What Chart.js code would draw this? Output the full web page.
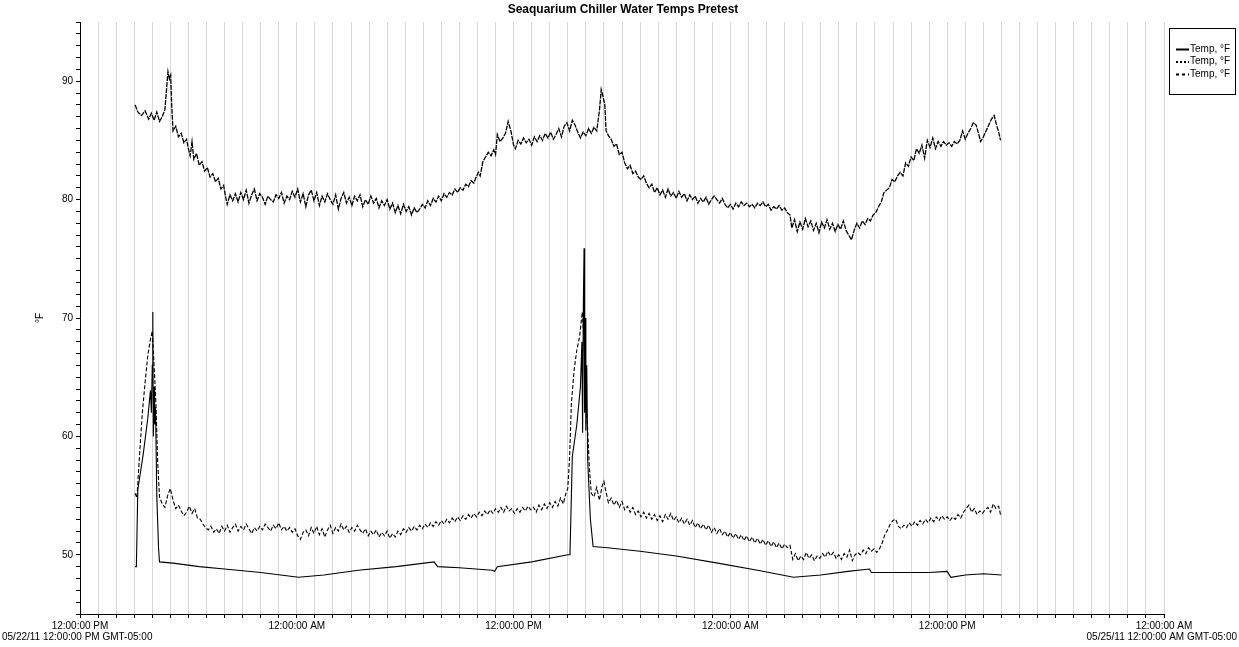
<!DOCTYPE html>
<html>
<head>
<meta charset="utf-8">
<title>Seaquarium Chiller Water Temps Pretest</title>
<script src="https://cdn.jsdelivr.net/npm/chart.js@4"></script>
<style>
  html, body { margin: 0; padding: 0; background: #fff; }
  #wrap { width: 1239px; height: 647px; position: relative; }
</style>
</head>
<body>
<div id="wrap"><canvas id="myChart"></canvas></div>
<script>
// Seaquarium chiller water temps, 05/22/11 12:00 PM -> 05/25/11 12:00 AM
// x = hours since 05/22/11 12:00 PM, y = °F

const chartTitle = "Seaquarium Chiller Water Temps Pretest";
const seriesNames = ["Temp, °F", "Temp, °F", "Temp, °F"];
const startLabel = "05/22/11 12:00:00 PM GMT-05:00";
const endLabel = "05/25/11 12:00:00 AM GMT-05:00";
const xTickLabels = ["12:00:00 PM", "12:00:00 AM"];

// ✅ solid line (lower, smooth with two spikes)
const solidPoints = [
  [3.05, 49.0], [3.12, 49.0], [3.2, 55.5], [3.5, 58.5], [3.75, 61.5], [3.9, 63.9],
  [3.95, 62.0], [4.0, 66.0], [4.03, 70.5], [4.06, 60.0], [4.1, 64.2], [4.13, 61.0],
  [4.18, 62.5], [4.25, 55.0], [4.35, 50.5], [4.4, 49.4], [5.15, 49.3], [6.6, 49.0],
  [8.0, 48.8], [10.0, 48.5], [12.1, 48.1], [13.5, 48.3], [15.4, 48.7], [17.5, 49.0],
  [19.6, 49.4], [19.8, 49.0], [21.0, 48.9], [22.8, 48.7], [22.95, 48.6], [23.1, 49.0],
  [25.0, 49.4], [27.0, 50.0], [27.12, 50.0], [27.25, 58.3], [27.5, 61.0], [27.7, 64.2],
  [27.78, 68.0], [27.82, 60.3], [27.86, 71.0], [27.9, 75.9], [27.93, 62.0], [27.96, 70.0],
  [28.0, 60.5], [28.05, 66.0], [28.1, 58.0], [28.25, 53.0], [28.4, 50.7], [29.2, 50.6],
  [31.0, 50.3], [33.0, 49.9], [35.3, 49.3], [37.5, 48.7], [39.5, 48.1], [41.0, 48.3],
  [42.5, 48.6], [43.7, 48.8], [43.8, 48.5], [45.5, 48.5], [47.0, 48.5], [48.0, 48.6],
  [48.2, 48.1], [49.0, 48.3], [50.0, 48.4], [51.0, 48.3]
];

// ✅ dotted line (top, ~80-90 °F)
const dottedPoints = [
  [3.05, 88.0], [3.2, 87.4], [3.4, 87.1], [3.6, 87.5], [3.8, 86.8], [3.95, 87.3],
  [4.1, 86.7], [4.25, 87.4], [4.4, 86.6], [4.55, 87.0], [4.7, 87.6], [4.8, 89.5],
  [4.87, 90.8], [4.95, 90.2], [5.02, 90.5], [5.08, 87.8], [5.15, 85.8], [5.3, 86.2],
  [5.45, 85.3], [5.6, 85.6], [5.75, 84.8], [5.9, 85.1], [6.0, 84.3], [6.1, 83.7],
  [6.2, 84.9], [6.3, 83.4], [6.45, 83.9], [6.6, 82.9], [6.75, 83.2], [6.9, 82.4],
  [7.05, 82.7], [7.2, 81.9], [7.35, 82.2], [7.5, 81.5], [7.65, 81.8], [7.8, 80.9],
  [7.95, 81.2], [8.05, 80.3], [8.15, 79.6], [8.3, 80.4], [8.45, 79.9], [8.6, 80.5],
  [8.75, 79.8], [8.9, 80.6], [9.05, 80.0], [9.2, 80.8], [9.35, 79.7], [9.5, 80.4],
  [9.65, 80.9], [9.8, 79.9], [9.95, 80.5], [10.1, 80.2], [10.25, 79.6], [10.4, 80.3],
  [10.55, 80.0], [10.7, 79.8], [10.85, 80.4], [11.0, 80.1], [11.15, 80.6], [11.3, 79.7],
  [11.45, 80.3], [11.6, 80.0], [11.75, 80.7], [11.9, 80.2], [12.05, 80.9], [12.2, 79.8],
  [12.35, 80.5], [12.5, 79.4], [12.65, 80.4], [12.8, 80.8], [12.95, 79.9], [13.1, 80.6],
  [13.25, 79.5], [13.4, 80.3], [13.55, 79.8], [13.7, 80.5], [13.85, 80.0], [14.0, 79.6],
  [14.15, 80.4], [14.3, 79.2], [14.45, 80.1], [14.6, 80.6], [14.75, 79.7], [14.9, 80.2],
  [15.05, 79.5], [15.2, 80.3], [15.35, 79.9], [15.5, 80.4], [15.65, 79.4], [15.8, 80.0],
  [15.95, 79.6], [16.1, 80.3], [16.25, 79.7], [16.4, 80.1], [16.55, 79.3], [16.7, 79.9],
  [16.85, 79.5], [17.0, 80.0], [17.15, 79.2], [17.3, 79.7], [17.45, 78.9], [17.6, 79.5],
  [17.75, 78.8], [17.9, 79.6], [18.05, 79.0], [18.2, 79.4], [18.35, 78.7], [18.5, 79.3],
  [18.65, 78.9], [18.8, 79.2], [18.95, 79.6], [19.1, 79.3], [19.25, 79.9], [19.4, 79.5],
  [19.55, 80.1], [19.7, 79.8], [19.85, 80.3], [20.0, 79.9], [20.15, 80.5], [20.3, 80.2],
  [20.45, 80.6], [20.6, 80.4], [20.75, 80.9], [20.9, 80.6], [21.05, 81.0], [21.2, 80.8],
  [21.35, 81.3], [21.5, 81.1], [21.65, 81.6], [21.8, 81.4], [21.9, 81.8], [22.05, 82.3],
  [22.15, 82.0], [22.3, 83.2], [22.45, 83.6], [22.6, 84.0], [22.75, 83.7], [22.9, 84.2],
  [23.0, 83.8], [23.1, 85.5], [23.25, 84.9], [23.4, 85.2], [23.55, 85.6], [23.7, 86.6],
  [23.85, 85.8], [24.0, 84.6], [24.1, 84.3], [24.25, 85.0], [24.4, 84.7], [24.55, 85.2],
  [24.7, 84.8], [24.85, 85.1], [25.0, 84.6], [25.15, 85.3], [25.3, 84.9], [25.45, 85.4],
  [25.6, 85.0], [25.75, 85.6], [25.9, 85.2], [26.05, 85.7], [26.2, 85.1], [26.35, 85.5],
  [26.5, 86.0], [26.65, 85.3], [26.8, 86.2], [26.95, 86.5], [27.1, 85.8], [27.25, 86.7],
  [27.4, 86.3], [27.55, 85.7], [27.7, 85.2], [27.85, 85.7], [28.0, 85.4], [28.15, 86.0],
  [28.3, 85.6], [28.45, 86.1], [28.6, 85.8], [28.75, 87.5], [28.85, 89.3], [28.95, 88.7],
  [29.05, 88.0], [29.12, 85.8], [29.25, 85.4], [29.4, 85.1], [29.55, 84.5], [29.7, 84.7],
  [29.85, 83.8], [30.0, 84.0], [30.15, 83.1], [30.3, 82.6], [30.45, 82.9], [30.6, 82.2],
  [30.75, 82.4], [30.9, 81.9], [31.05, 81.7], [31.2, 82.0], [31.35, 81.4], [31.5, 81.0],
  [31.65, 81.3], [31.8, 80.6], [31.95, 81.0], [32.1, 80.4], [32.25, 80.8], [32.4, 80.2],
  [32.55, 80.9], [32.7, 80.3], [32.85, 80.6], [33.0, 80.1], [33.15, 80.7], [33.3, 80.2],
  [33.45, 80.5], [33.6, 79.9], [33.75, 80.4], [33.9, 80.0], [34.05, 80.3], [34.2, 79.7],
  [34.35, 80.1], [34.5, 79.8], [34.65, 80.2], [34.8, 79.6], [34.95, 80.0], [35.1, 80.3],
  [35.25, 80.0], [35.4, 79.7], [35.55, 80.1], [35.7, 79.6], [35.85, 79.3], [36.0, 79.6],
  [36.15, 79.2], [36.3, 79.7], [36.45, 79.4], [36.6, 79.8], [36.75, 79.5], [36.9, 79.7],
  [37.05, 79.4], [37.2, 79.6], [37.35, 79.3], [37.5, 79.7], [37.65, 79.5], [37.8, 79.8],
  [37.95, 79.4], [38.1, 79.6], [38.25, 79.1], [38.4, 79.4], [38.55, 79.2], [38.7, 79.5],
  [38.85, 79.1], [39.0, 79.3], [39.15, 78.9], [39.3, 78.7], [39.4, 77.6], [39.55, 78.3],
  [39.7, 77.3], [39.85, 78.1], [40.0, 77.5], [40.15, 78.4], [40.3, 77.7], [40.45, 78.2],
  [40.6, 77.4], [40.75, 78.0], [40.9, 77.2], [41.05, 78.1], [41.2, 77.6], [41.35, 78.3],
  [41.5, 77.5], [41.65, 78.0], [41.8, 77.3], [41.95, 77.9], [42.1, 77.5], [42.25, 78.2],
  [42.4, 77.4], [42.55, 77.0], [42.7, 76.6], [42.85, 77.4], [43.0, 78.0], [43.15, 77.6],
  [43.3, 78.2], [43.45, 77.9], [43.6, 78.4], [43.75, 78.2], [43.9, 78.7], [44.05, 78.9],
  [44.2, 79.4], [44.35, 79.8], [44.5, 80.6], [44.65, 80.8], [44.8, 81.0], [44.95, 81.7],
  [45.1, 81.5], [45.25, 82.0], [45.4, 82.3], [45.55, 82.0], [45.7, 83.1], [45.85, 82.8],
  [46.0, 83.6], [46.15, 83.3], [46.3, 84.3], [46.45, 83.9], [46.6, 84.6], [46.75, 83.5],
  [46.9, 85.0], [47.05, 84.4], [47.2, 85.2], [47.35, 84.3], [47.5, 84.9], [47.65, 84.5],
  [47.8, 84.9], [47.95, 84.6], [48.1, 84.8], [48.25, 84.5], [48.4, 84.9], [48.55, 84.7],
  [48.7, 85.0], [48.85, 85.8], [49.0, 85.1], [49.15, 85.6], [49.3, 86.0], [49.45, 86.5],
  [49.6, 86.3], [49.75, 85.5], [49.85, 84.9], [50.0, 85.3], [50.15, 85.8], [50.3, 86.3],
  [50.45, 86.8], [50.6, 87.1], [50.75, 86.2], [50.85, 85.7], [50.95, 85.0]
];

// ✅ dashed line (middle, ~50-55 °F)
const dashedPoints = [
  [3.05, 55.2], [3.15, 54.8], [3.3, 58.5], [3.45, 62.0], [3.6, 64.5], [3.75, 66.8],
  [3.9, 68.2], [4.0, 68.9], [4.1, 66.0], [4.2, 62.8], [4.3, 57.8], [4.4, 54.9],
  [4.55, 54.3], [4.7, 54.0], [4.85, 55.0], [5.0, 55.6], [5.15, 54.6], [5.3, 53.9],
  [5.45, 54.2], [5.6, 53.7], [5.75, 53.3], [5.9, 53.6], [6.05, 54.1], [6.2, 53.5],
  [6.35, 53.9], [6.5, 53.1], [6.65, 53.0], [6.8, 52.6], [6.95, 52.3], [7.1, 52.1],
  [7.25, 52.4], [7.4, 51.9], [7.55, 52.2], [7.7, 51.8], [7.85, 52.4], [8.0, 52.0],
  [8.15, 52.5], [8.3, 51.9], [8.45, 52.3], [8.6, 52.6], [8.75, 52.0], [8.9, 52.4],
  [9.05, 52.1], [9.2, 52.6], [9.35, 52.2], [9.5, 51.8], [9.65, 52.3], [9.8, 52.0],
  [9.95, 52.4], [10.1, 52.1], [10.25, 52.6], [10.4, 52.3], [10.55, 52.0], [10.7, 52.5],
  [10.85, 52.2], [11.0, 52.7], [11.15, 52.1], [11.3, 52.4], [11.45, 52.0], [11.6, 52.3],
  [11.75, 51.9], [11.9, 52.2], [12.05, 51.6], [12.2, 51.3], [12.35, 51.9], [12.5, 52.1],
  [12.65, 51.6], [12.8, 52.3], [12.95, 51.8], [13.1, 52.4], [13.25, 51.7], [13.4, 52.2],
  [13.55, 51.5], [13.7, 52.1], [13.85, 52.5], [14.0, 51.8], [14.15, 52.3], [14.3, 52.0],
  [14.45, 52.6], [14.6, 52.1], [14.75, 52.4], [14.9, 51.9], [15.05, 52.3], [15.2, 52.0],
  [15.35, 52.5], [15.5, 52.1], [15.65, 51.8], [15.8, 52.2], [15.95, 51.6], [16.1, 52.0],
  [16.25, 51.7], [16.4, 52.1], [16.55, 51.5], [16.7, 51.9], [16.85, 51.6], [17.0, 52.0],
  [17.15, 51.4], [17.3, 51.8], [17.45, 51.5], [17.6, 52.0], [17.75, 51.7], [17.9, 52.2],
  [18.05, 51.9], [18.2, 52.3], [18.35, 52.0], [18.5, 52.4], [18.65, 52.1], [18.8, 52.5],
  [18.95, 52.2], [19.1, 52.6], [19.25, 52.3], [19.4, 52.7], [19.55, 52.4], [19.7, 52.8],
  [19.85, 52.5], [20.0, 52.9], [20.15, 52.6], [20.3, 53.0], [20.45, 52.7], [20.6, 53.1],
  [20.75, 52.8], [20.9, 53.2], [21.05, 52.9], [21.2, 53.3], [21.35, 53.0], [21.5, 53.4],
  [21.65, 53.1], [21.8, 53.5], [21.95, 53.2], [22.1, 53.6], [22.25, 53.3], [22.4, 53.7],
  [22.55, 53.4], [22.7, 53.8], [22.85, 53.5], [23.0, 53.9], [23.15, 53.6], [23.3, 54.0],
  [23.45, 53.6], [23.6, 54.1], [23.75, 53.7], [23.9, 53.9], [24.05, 53.5], [24.2, 53.9],
  [24.35, 53.6], [24.5, 54.0], [24.65, 53.7], [24.8, 54.1], [24.95, 53.8], [25.1, 54.0],
  [25.25, 53.6], [25.4, 54.2], [25.55, 53.8], [25.7, 54.3], [25.85, 53.9], [26.0, 54.4],
  [26.15, 54.0], [26.3, 54.5], [26.45, 54.1], [26.6, 54.8], [26.75, 54.3], [26.9, 55.2],
  [27.0, 55.6], [27.1, 58.3], [27.2, 62.8], [27.35, 65.6], [27.5, 67.3], [27.65, 68.4],
  [27.8, 70.5], [27.9, 68.0], [28.0, 64.0], [28.1, 60.5], [28.2, 57.2], [28.3, 55.2],
  [28.45, 54.9], [28.6, 55.7], [28.75, 54.6], [28.9, 55.8], [29.0, 56.2], [29.1, 55.4],
  [29.25, 54.4], [29.4, 54.8], [29.55, 54.2], [29.7, 54.6], [29.85, 54.0], [30.0, 54.5],
  [30.15, 53.8], [30.3, 54.1], [30.45, 53.6], [30.6, 54.0], [30.75, 53.4], [30.9, 53.7],
  [31.05, 53.2], [31.2, 53.6], [31.35, 53.1], [31.5, 53.5], [31.65, 53.0], [31.8, 53.4],
  [31.95, 52.9], [32.1, 53.3], [32.25, 52.8], [32.4, 53.4], [32.55, 53.0], [32.7, 53.5],
  [32.85, 52.9], [33.0, 53.2], [33.15, 52.7], [33.3, 53.1], [33.45, 52.6], [33.6, 53.0],
  [33.75, 52.5], [33.9, 52.9], [34.05, 52.3], [34.2, 52.7], [34.35, 52.2], [34.5, 52.6],
  [34.65, 52.1], [34.8, 52.5], [34.95, 51.9], [35.1, 52.3], [35.25, 51.8], [35.4, 52.2],
  [35.55, 51.7], [35.7, 52.0], [35.85, 51.5], [36.0, 51.9], [36.15, 51.4], [36.3, 51.8],
  [36.45, 51.3], [36.6, 51.7], [36.75, 51.2], [36.9, 51.6], [37.05, 51.1], [37.2, 51.5],
  [37.35, 51.0], [37.5, 51.4], [37.65, 50.9], [37.8, 51.3], [37.95, 50.8], [38.1, 51.2],
  [38.25, 50.7], [38.4, 51.1], [38.55, 50.6], [38.7, 51.0], [38.85, 50.5], [39.0, 50.9],
  [39.15, 50.6], [39.3, 50.8], [39.45, 49.6], [39.6, 50.1], [39.75, 49.5], [39.9, 49.9],
  [40.05, 49.6], [40.2, 50.2], [40.35, 49.7], [40.5, 50.0], [40.65, 49.5], [40.8, 49.9],
  [40.95, 49.7], [41.1, 50.1], [41.25, 49.8], [41.4, 50.3], [41.55, 49.9], [41.7, 50.2],
  [41.85, 49.7], [42.0, 50.0], [42.15, 49.6], [42.3, 50.1], [42.45, 49.8], [42.6, 50.4],
  [42.75, 49.5], [42.9, 50.0], [43.05, 50.2], [43.2, 50.0], [43.35, 50.4], [43.5, 50.1],
  [43.65, 50.6], [43.8, 50.3], [43.95, 50.5], [44.1, 50.2], [44.25, 50.5], [44.4, 51.0],
  [44.55, 51.7], [44.7, 52.1], [44.85, 52.6], [45.0, 52.9], [45.15, 53.0], [45.3, 52.4],
  [45.45, 52.2], [45.6, 52.5], [45.75, 52.3], [45.9, 52.7], [46.05, 52.4], [46.2, 52.8],
  [46.35, 52.5], [46.5, 52.9], [46.65, 52.6], [46.8, 53.0], [46.95, 52.7], [47.1, 53.1],
  [47.25, 52.8], [47.4, 53.2], [47.55, 52.9], [47.7, 53.3], [47.85, 53.0], [48.0, 53.2],
  [48.15, 52.9], [48.3, 53.2], [48.45, 53.0], [48.6, 53.4], [48.75, 53.1], [48.9, 53.6],
  [49.05, 53.9], [49.2, 54.2], [49.35, 53.6], [49.5, 53.9], [49.65, 53.4], [49.8, 53.7],
  [49.95, 53.5], [50.1, 53.8], [50.25, 54.0], [50.4, 53.6], [50.55, 54.3], [50.7, 53.9],
  [50.85, 54.1], [50.95, 53.4]
];

const lineDashes = [[], [5, 1], [4, 2]];
const lineWidths = [1.1, 1.3, 1.1];

function toXY(points) {
  return points.map((p) => ({ x: p[0], y: p[1] }));
}

// ✅ Data
const data = {
  datasets: [solidPoints, dottedPoints, dashedPoints].map((pts, i) => ({
    label: seriesNames[i],
    data: toXY(pts),
    borderColor: "#000",
    borderWidth: lineWidths[i],
    borderDash: lineDashes[i],
    pointRadius: 0,
    tension: 0,
    fill: false,
  })),
};

const FONT = "'Liberation Sans', Arial, sans-serif";

// Title, axis title, date stamps and legend box drawn by hand
const decorPlugin = {
  id: "decor",
  afterDraw(chart) {
    const ctx = chart.ctx;
    const area = chart.chartArea;
    ctx.save();
    ctx.fillStyle = "#000";
    ctx.textBaseline = "middle";

    ctx.font = "bold 12px " + FONT;
    ctx.textAlign = "center";
    ctx.fillText(chartTitle, (area.left + area.right) / 2 + 1, 10);

    ctx.font = "10px " + FONT;
    ctx.save();
    ctx.translate(40, (area.top + area.bottom) / 2);
    ctx.rotate(-Math.PI / 2);
    ctx.fillText("°F", 0, 0);
    ctx.restore();

    ctx.textAlign = "left";
    ctx.fillText(startLabel, 2, 637);
    ctx.textAlign = "right";
    ctx.fillText(endLabel, 1237, 637);

    // legend
    const bx = 1169, by = 28, bw = 66, bh = 66;
    ctx.fillStyle = "#fff";
    ctx.fillRect(bx, by, bw, bh);
    ctx.strokeStyle = "#000";
    ctx.lineWidth = 1;
    ctx.strokeRect(bx + 0.5, by + 0.5, bw, bh);
    ctx.fillStyle = "#000";
    ctx.textAlign = "left";
    ctx.font = "10px " + FONT;
    const rows = [49, 61.5, 74];
    const legendDashes = [[], [2, 2], [3, 3]];
    rows.forEach((ry, i) => {
      ctx.beginPath();
      ctx.lineWidth = 2;
      ctx.setLineDash(legendDashes[i]);
      ctx.moveTo(1176, ry + 0.5);
      ctx.lineTo(1189, ry + 0.5);
      ctx.stroke();
      ctx.setLineDash([]);
      ctx.fillText(seriesNames[i], 1190, ry);
    });
    ctx.restore();
  },
};

// ✅ Config
const config = {
  type: "line",
  data: data,
  options: {
    responsive: true,
    maintainAspectRatio: false,
    animation: false,
    events: [],
    layout: { padding: { top: 22, right: 75, bottom: 0, left: 0 } },
    plugins: {
      legend: { display: false },
      title: { display: false },
      tooltip: { enabled: false },
    },
    scales: {
      x: {
        type: "linear",
        min: 0,
        max: 60,
        afterFit(scale) {
          scale.height = 33;
        },
        border: { color: "#000", width: 1 },
        grid: {
          color: "#d6d6d6",
          lineWidth: 1,
          tickColor: "#000",
          tickLength: 4,
        },
        ticks: {
          stepSize: 1,
          autoSkip: false,
          maxRotation: 0,
          padding: 2,
          color: "#000",
          font: { family: FONT, size: 10 },
          callback: (v) => (v % 12 === 0 ? xTickLabels[(v / 12) % 2] : ""),
        },
      },
      y: {
        min: 45,
        max: 95,
        afterFit(scale) {
          scale.width = 80;
        },
        border: { color: "#000", width: 1 },
        grid: {
          drawOnChartArea: false,
          tickColor: "#000",
          tickLength: 4,
        },
        ticks: {
          stepSize: 1,
          autoSkip: false,
          padding: 3,
          color: "#000",
          font: { family: FONT, size: 10 },
          callback: (v) => (v % 10 === 0 ? String(v) : ""),
        },
      },
    },
  },
  plugins: [decorPlugin],
};

// ✅ Create chart
new Chart(document.getElementById("myChart"), config);
</script>
</body>
</html>
